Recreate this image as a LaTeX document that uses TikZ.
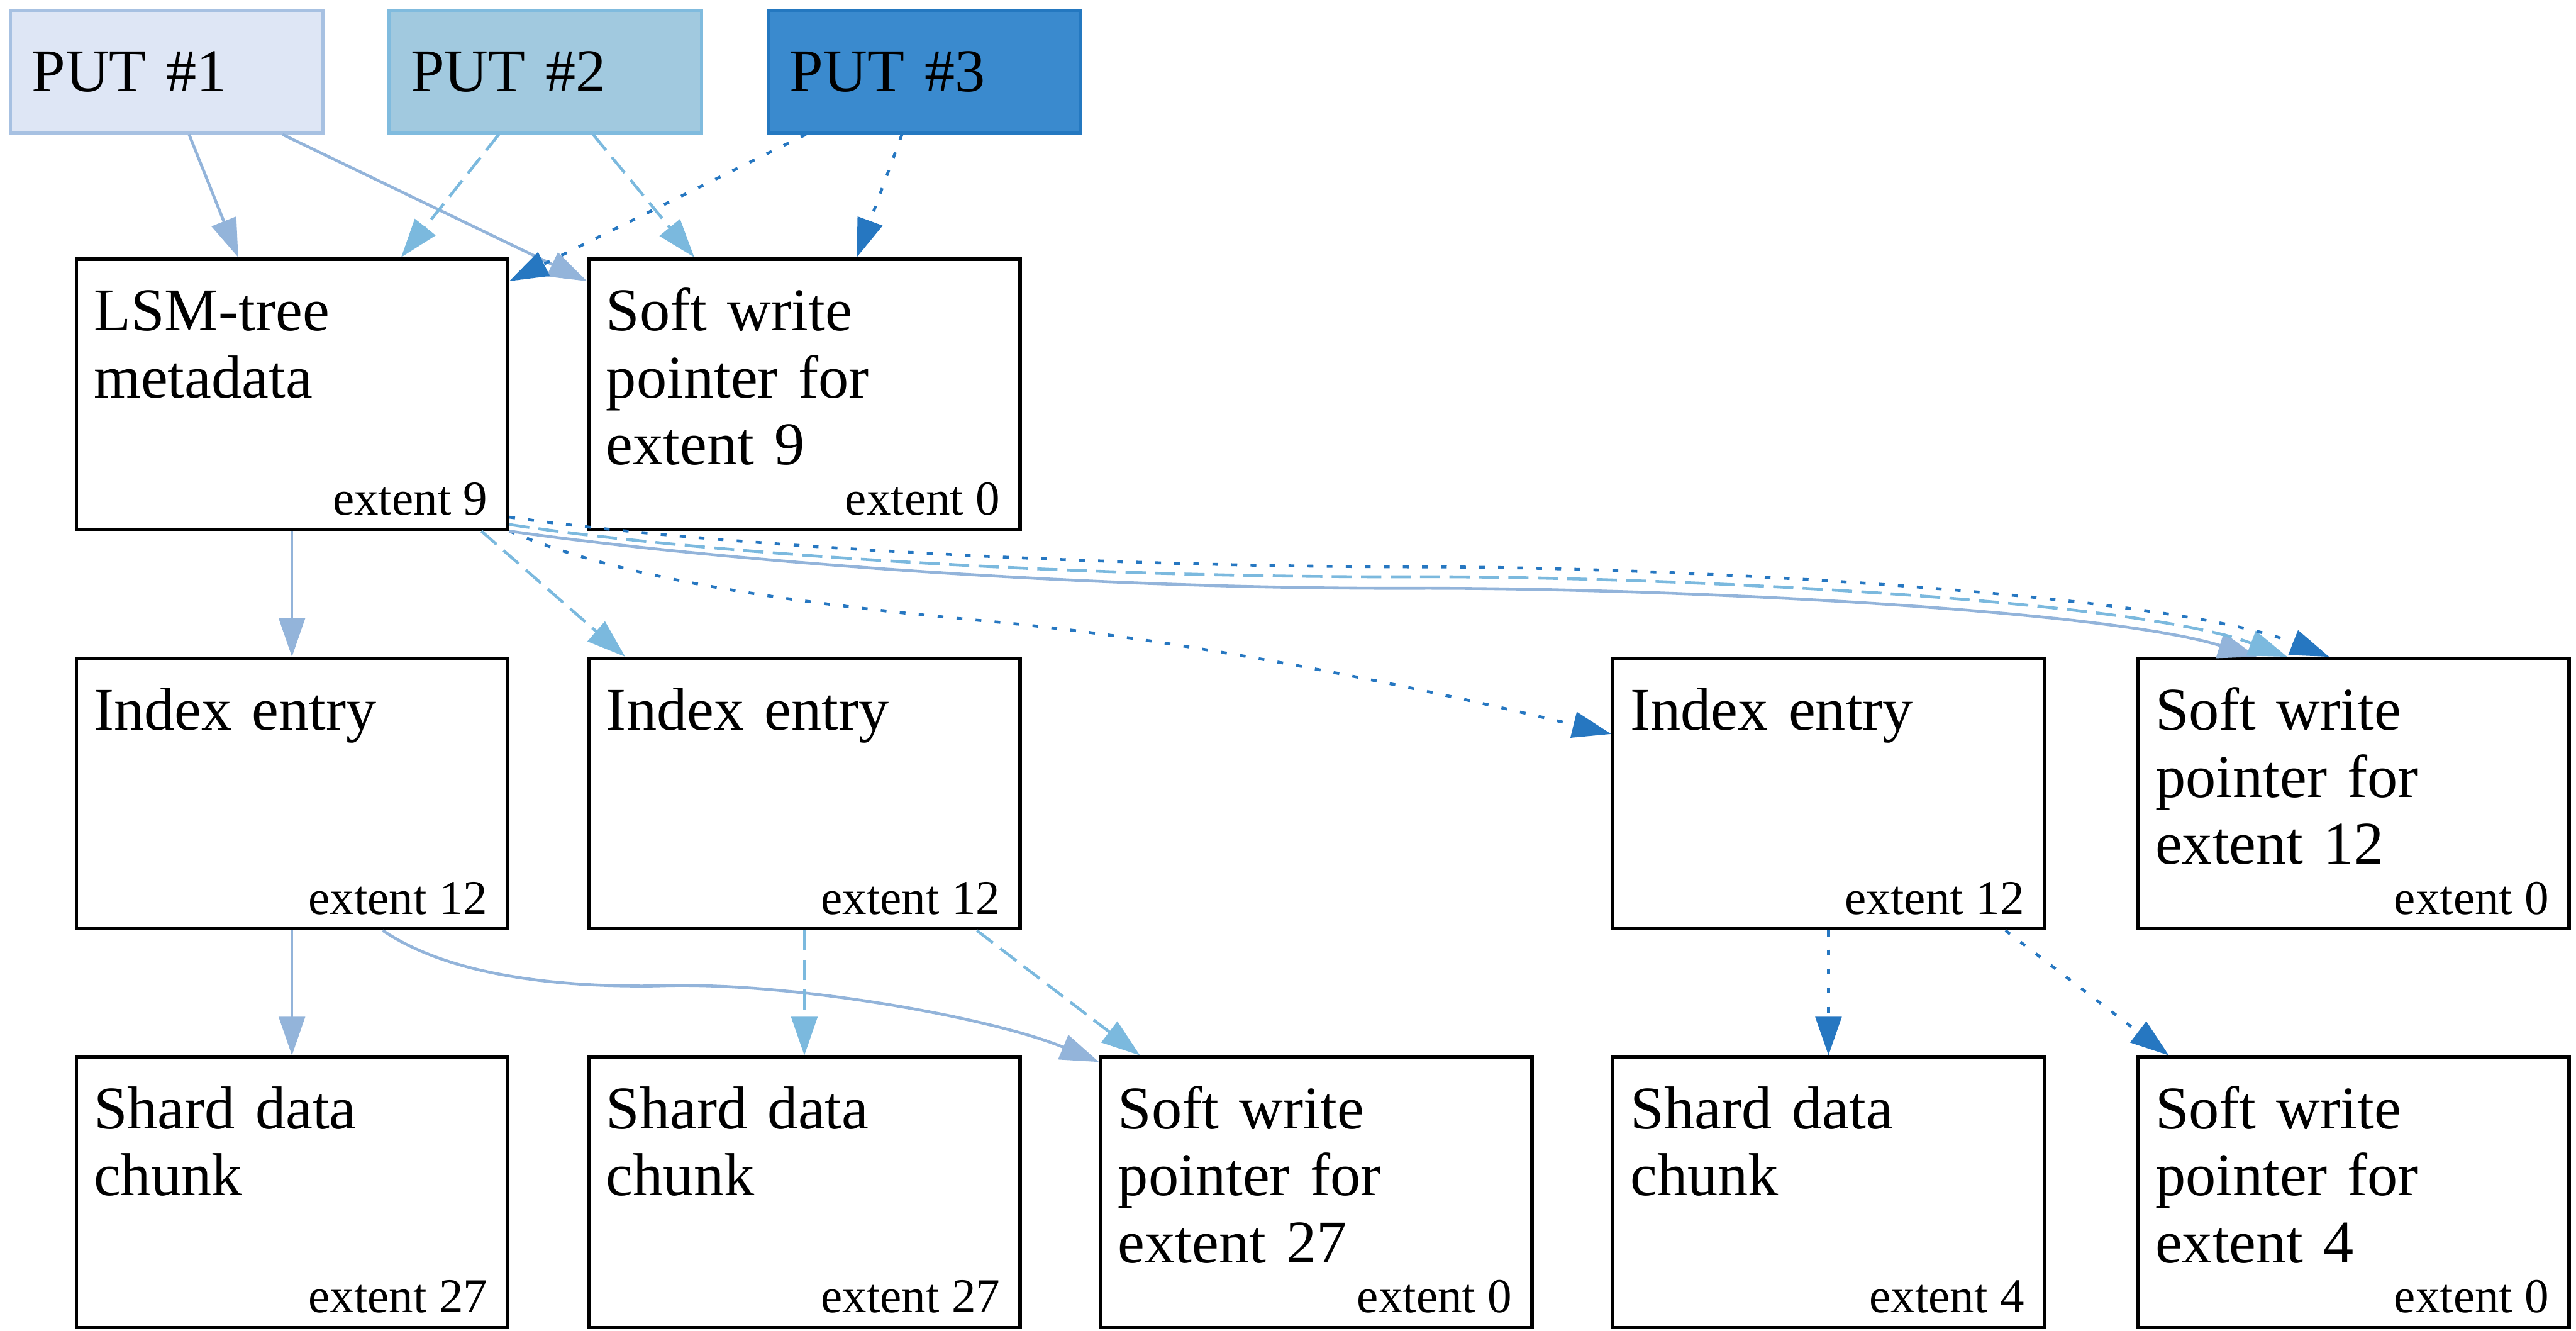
\documentclass[tikz,border=0pt]{standalone}
\usepackage{fontspec}
\setmainfont{Liberation Serif}
\usetikzlibrary{arrows.meta}

\definecolor{put1fill}{HTML}{DEE6F5}
\definecolor{put1line}{HTML}{A7C1E2}
\definecolor{put1edge}{HTML}{93B4DA}
\definecolor{put2fill}{HTML}{A1C9DF}
\definecolor{put2line}{HTML}{80BBDE}
\definecolor{put2edge}{HTML}{7BB9DE}
\definecolor{put3fill}{HTML}{3A8ACE}
\definecolor{put3line}{HTML}{2478C0}
\definecolor{put3edge}{HTML}{2677C1}

\begin{document}
\begin{tikzpicture}[x=0.1mm, y=-0.1mm,
        putbox/.style = {rectangle, draw, line width=.6pt, minimum width=19mm, minimum height=7.44mm,
                         text width=16.4mm, inner xsep=1.3mm, inner ysep=0pt, align=left,
                         font=\fontsize{10.5}{11.6}\selectfont},
        blk/.style    = {draw, fill=white, line width=.6pt, minimum width=26.25mm, minimum height=16.45mm, inner sep=0pt},
        txt/.style    = {anchor=base west, inner sep=0pt, text width=24mm, align=left,
                         font=\fontsize{10.5}{11.6}\selectfont},
        ext/.style    = {anchor=base east, inner sep=0pt, font=\fontsize{8.4}{10}\selectfont},
        tip/.style    = {-{Triangle[length=6.7pt,width=4.5pt]}},
        flow1/.style  = {tip, draw=put1edge, line width=.5pt},
        flow2/.style  = {tip, draw=put2edge, line width=.5pt, dash pattern=on 3.5pt off 1.6pt},
        flow3/.style  = {tip, draw=put3edge, line width=.5pt, dash pattern=on 1pt off 2.3pt}
        ]
    \useasboundingbox (0,0) rectangle (1568,810);

    % requests
    \node[putbox, fill=put1fill, draw=put1line] (put1) at (101.3,43.6) {PUT \#1};
    \node[putbox, fill=put2fill, draw=put2line] (put2) at (332.0,43.6) {PUT \#2};
    \node[putbox, fill=put3fill, draw=put3line] (put3) at (562.8,43.6) {PUT \#3};

    % second row
    \node[blk] (lsm) at (177.7,239.9) {};
    \node[txt] (lsm-t) at ([shift={(11,44.6)}]lsm.north west) {LSM-tree\\metadata};
    \node[ext] (lsm-x) at ([shift={(-12.5,-10)}]lsm.south east) {extent 9};

    \node[blk] (swp9) at (489.6,239.9) {};
    \node[txt] (swp9-t) at ([shift={(11,44.6)}]swp9.north west) {Soft write\\pointer for\\extent 9};
    \node[ext] (swp9-x) at ([shift={(-12.5,-10)}]swp9.south east) {extent 0};

    % third row
    \node[blk] (idx1) at (177.7,483) {};
    \node[txt] (idx1-t) at ([shift={(11,44.6)}]idx1.north west) {Index entry};
    \node[ext] (idx1-x) at ([shift={(-12.5,-10)}]idx1.south east) {extent 12};

    \node[blk] (idx2) at (489.6,483) {};
    \node[txt] (idx2-t) at ([shift={(11,44.6)}]idx2.north west) {Index entry};
    \node[ext] (idx2-x) at ([shift={(-12.5,-10)}]idx2.south east) {extent 12};

    \node[blk] (idx3) at (1113,483) {};
    \node[txt] (idx3-t) at ([shift={(11,44.6)}]idx3.north west) {Index entry};
    \node[ext] (idx3-x) at ([shift={(-12.5,-10)}]idx3.south east) {extent 12};

    \node[blk] (swp12) at (1432.5,483) {};
    \node[txt] (swp12-t) at ([shift={(11,44.6)}]swp12.north west) {Soft write\\pointer for\\extent 12};
    \node[ext] (swp12-x) at ([shift={(-12.5,-10)}]swp12.south east) {extent 0};

    % bottom row
    \node[blk] (sh1) at (177.7,725.6) {};
    \node[txt] (sh1-t) at ([shift={(11,44.6)}]sh1.north west) {Shard data\\chunk};
    \node[ext] (sh1-x) at ([shift={(-12.5,-10)}]sh1.south east) {extent 27};

    \node[blk] (sh2) at (489.6,725.6) {};
    \node[txt] (sh2-t) at ([shift={(11,44.6)}]sh2.north west) {Shard data\\chunk};
    \node[ext] (sh2-x) at ([shift={(-12.5,-10)}]sh2.south east) {extent 27};

    \node[blk] (swp27) at (801.2,725.6) {};
    \node[txt] (swp27-t) at ([shift={(11,44.6)}]swp27.north west) {Soft write\\pointer for\\extent 27};
    \node[ext] (swp27-x) at ([shift={(-12.5,-10)}]swp27.south east) {extent 0};

    \node[blk] (sh4) at (1113,725.6) {};
    \node[txt] (sh4-t) at ([shift={(11,44.6)}]sh4.north west) {Shard data\\chunk};
    \node[ext] (sh4-x) at ([shift={(-12.5,-10)}]sh4.south east) {extent 4};

    \node[blk] (swp4) at (1432.5,725.6) {};
    \node[txt] (swp4-t) at ([shift={(11,44.6)}]swp4.north west) {Soft write\\pointer for\\extent 4};
    \node[ext] (swp4-x) at ([shift={(-12.5,-10)}]swp4.south east) {extent 0};

    % PUT edges
    \draw[flow1] ([shift={(13.8,0)}]put1.south) -- ([shift={(-32.7,0)}]lsm.north);
    \draw[flow1] ([shift={(70.7,0)}]put1.south) -- ([shift={(0,14.5)}]swp9.north west);
    \draw[flow2] ([shift={(-28.4,0)}]put2.south) -- ([shift={(66.5,0)}]lsm.north);
    \draw[flow2] ([shift={(29,0)}]put2.south) -- ([shift={(-67,0)}]swp9.north);
    \draw[flow3] ([shift={(-72.3,0)}]put3.south) -- ([shift={(0,14.5)}]lsm.north east);
    \draw[flow3] ([shift={(-13.8,0)}]put3.south) -- ([shift={(31.9,0)}]swp9.north);

    % metadata -> entries
    \draw[flow1] (lsm) -- (idx1);
    \draw[flow2] ([shift={(115.3,0)}]lsm.south) -- ([shift={(-109,0)}]idx2.north);
    \draw[flow3] (lsm.south east) .. controls +(70,30) and +(-120,-11) .. (605,378.4)
                 .. controls +(120,11) and +(-110,-27) .. ([shift={(0,47)}]idx3.north west);
    \draw[flow1] (lsm.south east) .. controls +(111,16) and +(-218,1) .. (868,358)
                 .. controls +(150,0) and +(-94.5,-29) .. ([shift={(73.5,0)}]swp12.north west);
    \draw[flow2] ([shift={(0,-4)}]lsm.south east) .. controls +(111,17) and +(-218,1) .. (868,351)
                 .. controls +(150,0) and +(-93,-35) .. ([shift={(92,0)}]swp12.north west);
    \draw[flow3] ([shift={(0,-8.5)}]lsm.south east) .. controls +(111,16) and +(-218,0) .. (868,345)
                 .. controls +(150,0) and +(-98.5,-39) .. ([shift={(117.5,0)}]swp12.north west);

    % entries -> data
    \draw[flow1] (idx1) -- (sh1);
    \draw[flow1] ([shift={(55.3,0)}]idx1.south) .. controls +(37,25) and +(-70,1) .. (400,600)
                 .. controls +(80,-3) and +(-65,-27) .. ([shift={(0,4)}]swp27.north west);
    \draw[flow2] (idx2) -- (sh2);
    \draw[flow2] ([shift={(105,0)}]idx2.south) -- ([shift={(-107.3,0)}]swp27.north);
    \draw[flow3] (idx3) -- (sh4);
    \draw[flow3] ([shift={(107.7,0)}]idx3.south) -- ([shift={(20,0)}]swp4.north west);
\end{tikzpicture}
\end{document}
